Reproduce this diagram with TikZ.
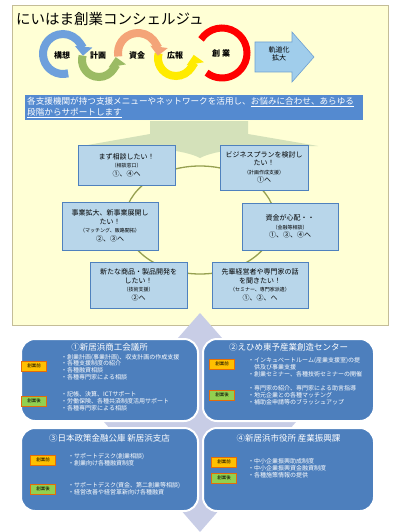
\documentclass[tikz,border=0pt]{standalone}
\usepackage{fontspec}
\setmainfont{Noto Sans CJK JP}
\usetikzlibrary{arrows.meta, positioning, calc}

\definecolor{panelyellow}{RGB}{255,255,213}
\definecolor{panelline}{RGB}{196,189,151}
\definecolor{bannerblue}{RGB}{84,138,208}
\definecolor{arrowgreen}{RGB}{212,225,186}
\definecolor{stepblue}{RGB}{184,214,234}
\definecolor{stepline}{RGB}{79,129,189}
\definecolor{ringolive}{RGB}{150,160,80}
\definecolor{diamondfill}{RGB}{200,205,230}
\definecolor{orgblue}{RGB}{77,127,189}
\definecolor{tagorange}{RGB}{255,192,0}
\definecolor{tagline}{RGB}{228,108,10}
\definecolor{taggreen}{RGB}{146,208,80}
\definecolor{cycblue}{RGB}{110,160,220}
\definecolor{cycgreen}{RGB}{155,187,100}
\definecolor{cycorange}{RGB}{244,164,120}
\definecolor{cycyellow}{RGB}{255,235,0}
\definecolor{cycred}{RGB}{255,0,0}
\definecolor{growblue}{RGB}{160,205,235}
\definecolor{growline}{RGB}{110,160,210}

\newcommand{\subtxt}[1]{{\fontsize{5}{6.5}\selectfont #1}}

\begin{document}
\begin{tikzpicture}[
    x=1pt, y=-1pt,
    panel/.style={fill=panelyellow, draw=panelline, line width=0.8pt},
    heading/.style={anchor=west, inner sep=0pt, font=\fontsize{14.5}{16}\selectfont},
    cyc/.style={line width=8pt, -{Triangle[width=17pt,length=9pt]}},
    cyclabel/.style={inner sep=0pt, font=\fontsize{8}{9}\selectfont\bfseries},
    banner/.style={rectangle, fill=bannerblue, anchor=north west, minimum width=338pt, minimum height=25pt, text width=334pt, inner sep=2pt, align=left, text=white, font=\fontsize{8.6}{9.5}\selectfont},
    stepbox/.style={rectangle, draw=stepline, fill=stepblue, line width=0.8pt, align=center, inner sep=1pt, font=\fontsize{7}{8.5}\selectfont},
    ring/.style={draw=ringolive, line width=1.3pt},
    orgbox/.style={rectangle, rounded corners=14pt, fill=orgblue, draw=white, line width=2pt, anchor=north west},
    orgtitle/.style={text=white, inner sep=0pt, font=\fontsize{8.5}{10}\selectfont},
    tagpre/.style={rectangle, fill=tagorange, draw=tagline, line width=0.8pt, minimum width=25pt, minimum height=10pt, inner sep=0pt, font=\fontsize{4.5}{5}\selectfont},
    tagpost/.style={tagpre, fill=taggreen},
    items/.style={text=white, align=left, anchor=west, inner sep=0pt, font=\fontsize{6}{6.8}\selectfont}
]
    \useasboundingbox (0,0) rectangle (400,532);

    % Upper panel
    \draw[panel] (12,5) rectangle (388,325);
    \node[heading] (title) at (16,19) {にいはま創業コンシェルジュ};

    % Stage cycle
    \draw[cyc, draw=cycgreen] (99,60) ++(195:17) arc[start angle=195, end angle=-10, radius=17];
    \draw[cyc, draw=cycblue] (63,54) ++(75:20) arc[start angle=75, end angle=365, radius=20];
    \draw[cyc, draw=cycyellow] (176,58) ++(195:18) arc[start angle=195, end angle=-10, radius=18];
    \draw[cyc, draw=cycorange] (138,53) ++(170:20) arc[start angle=170, end angle=368, radius=20];
    \draw[draw=cycred, line width=7pt] (222,53) ++(213:25) arc[start angle=213, end angle=488, radius=25];
    \node[cyclabel] (c1) at (62,55) {構想};
    \node[cyclabel] (c2) at (98,55) {計画};
    \node[cyclabel] (c3) at (137,55) {資金};
    \node[cyclabel] (c4) at (175,55) {広報};
    \node[cyclabel] (c5) at (221,53) {創\hspace{2pt}業};

    % Growth arrow
    \draw[fill=growblue, draw=growline, line width=0.6pt] (255,42) -- (292,42) -- (292,32) -- (314,57) -- (292,82) -- (292,72) -- (255,72) -- cycle;
    \node[align=center, inner sep=0pt, font=\fontsize{7}{8.5}\selectfont] (grow) at (279,54) {軌道化\\拡大};

    % Banner
    \node[banner] (msg) at (25,95) {各支援機関が持つ支援メニューやネットワークを活用し、\underline{お悩みに合わせ、あらゆる}\\\underline{段階からサポートします}};

    % Big down arrow
    \fill[arrowgreen] (150,121) -- (248,121) -- (248,134) -- (318,146)
        .. controls (250,146) and (215,150) .. (200,158)
        .. controls (185,150) and (150,146) .. (82,146) -- (150,134) -- cycle;

    % Ring behind the needs
    \coordinate (ringc) at (200,220);
    \draw[ring] (ringc) ellipse [x radius=75, y radius=54];

    % Needs
    \node[stepbox, minimum width=97pt, minimum height=40pt] (s1) at (126.5,165) {まず相談したい！\\\subtxt{（相談窓口）}\\①、④へ};
    \node[stepbox, minimum width=88pt, minimum height=45pt] (s2) at (264,167.5) {ビジネスプランを検討し\\たい！\\\subtxt{（計画作成支援）}\\①へ};
    \node[stepbox, minimum width=96pt, minimum height=48pt] (s3) at (110,226) {事業拡大、新事業展開し\\たい！\\\subtxt{（マッチング、販路開拓）}\\②、③へ};
    \node[stepbox, minimum width=96pt, minimum height=47pt] (s4) at (290,226.5) {資金が心配・・\\\subtxt{（金融等相談）}\\①、③、④へ};
    \node[stepbox, minimum width=97pt, minimum height=46pt] (s5) at (138.5,285) {新たな商品・製品開発を\\したい！\\\subtxt{（技術支援）}\\②へ};
    \node[stepbox, minimum width=96pt, minimum height=46pt] (s6) at (260,285) {先輩経営者や専門家の話\\を聞きたい！\\\subtxt{（セミナー、専門家派遣）}\\①、②、へ};

    % Diamond behind the four offices
    \fill[diamondfill] (200,313) -- (296,422) -- (200,532) -- (104,422) -- cycle;

    % Office 1
    \node[orgbox, minimum width=177pt, minimum height=82pt] (org1) at (20,338) {};
    \node[orgtitle] (org1t) at ($(org1.north)+(0,9)$) {①新居浜商工会議所};
    \node[tagpre] (org1pre) at ($(org1.north west)+(14,28)$) {創業前};
    \node[items] (org1a) at ($(org1.north west)+(41,29)$) {・創業計画(事業計画)、収支計画の作成支援\\・各種支援制度の紹介\\・各種融資相談\\・各種専門家による相談};
    \node[tagpost] (org1post) at ($(org1.north west)+(14,63)$) {創業後};
    \node[items] (org1b) at ($(org1.north west)+(41,63)$) {・記帳、決算、ICTサポート\\・労働保険、各種共済制度活用サポート\\・各種専門家による相談};

    % Office 2
    \node[orgbox, minimum width=171pt, minimum height=82pt] (org2) at (202,338) {};
    \node[orgtitle] (org2t) at ($(org2.north)+(0,9)$) {②えひめ東予産業創造センター};
    \node[tagpre] (org2pre) at ($(org2.north west)+(20,26)$) {創業前};
    \node[items] (org2a) at ($(org2.north west)+(46,29)$) {・インキュベートルーム(産業支援室)の提\\\phantom{・}供及び事業支援\\・創業セミナー、各種技術セミナーの開催};
    \node[tagpost] (org2post) at ($(org2.north west)+(20,57)$) {創業後};
    \node[items] (org2b) at ($(org2.north west)+(46,57)$) {・専門家の紹介、専門家による助言指導\\・地元企業との各種マッチング\\・補助金申請等のブラッシュアップ};

    % Office 3
    \node[orgbox, minimum width=177pt, minimum height=83pt] (org3) at (20,427) {};
    \node[orgtitle] (org3t) at ($(org3.north)+(0,11)$) {③日本政策金融公庫 新居浜支店};
    \node[tagpre] (org3pre) at ($(org3.north west)+(23,33)$) {創業前};
    \node[items] (org3a) at ($(org3.north west)+(48,33)$) {・サポートデスク(創業相談)\\・創業向け各種融資制度};
    \node[tagpost] (org3post) at ($(org3.north west)+(23,62)$) {創業後};
    \node[items] (org3b) at ($(org3.north west)+(48,62)$) {・サポートデスク(資金、第二創業等相談)\\・経営改善や経営革新向け各種融資};

    % Office 4
    \node[orgbox, minimum width=171pt, minimum height=83pt] (org4) at (202,427) {};
    \node[orgtitle] (org4t) at ($(org4.north)+(0,11)$) {④新居浜市役所 産業振興課};
    \node[tagpre] (org4pre) at ($(org4.north west)+(22,35)$) {創業前};
    \node[tagpost] (org4post) at ($(org4.north west)+(22,51)$) {創業後};
    \node[items] (org4a) at ($(org4.north west)+(46,41)$) {・中小企業振興助成制度\\・中小企業振興資金融資制度\\・各種施策情報の提供};

\end{tikzpicture}
\end{document}
